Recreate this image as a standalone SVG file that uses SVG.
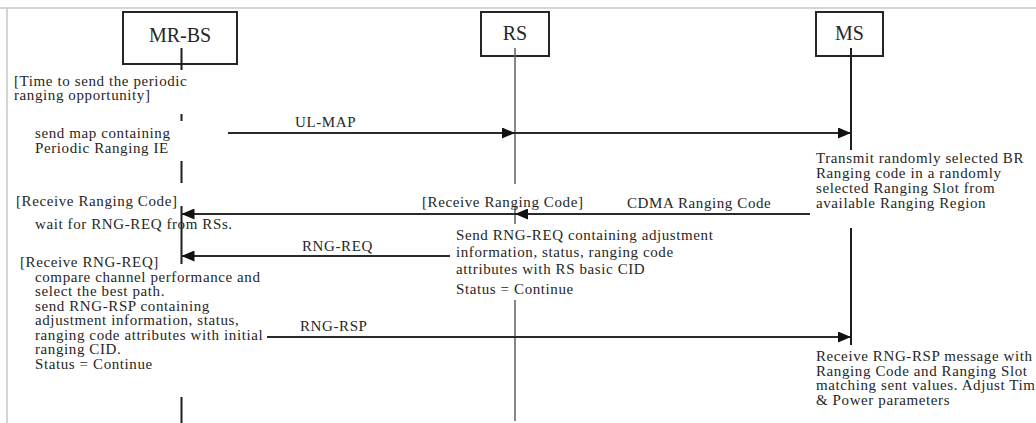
<svg xmlns="http://www.w3.org/2000/svg" width="1036" height="423" viewBox="0 0 1036 423">
  <style>
    .frame { stroke: #c8c8c8; stroke-width: 1.5; fill: none; }
    .box { fill: #fff; stroke: #262626; stroke-width: 2; }
    .title { font-family: "Liberation Serif", "Times New Roman", serif; font-size: 20px; fill: #262626; text-anchor: middle; }
    .txt { font-family: "Liberation Serif", "Times New Roman", serif; font-size: 15px; letter-spacing: 0.6px; fill: #262626; }
    .life { stroke: #1e1e1e; stroke-width: 2; fill: none; }
    .life-rs { stroke: #6a6a6a; stroke-width: 1.6; fill: none; }
    .msg { stroke: #2a2a2a; stroke-width: 2; fill: none; marker-end: url(#head); }
  </style>
  <defs>
    <marker id="head" markerWidth="13" markerHeight="11" refX="13" refY="5.5" orient="auto" markerUnits="userSpaceOnUse">
      <path d="M0,0 L13,5.5 L0,11 z" fill="#111"/>
    </marker>
  </defs>

  <rect width="1036" height="423" fill="#fff"/>
  <!-- page frame -->
  <path class="frame" d="M0,8 H1036 M7,8 V423"/>

  <!-- MR-BS -->
  <g id="mr-bs">
    <rect class="box" x="123" y="12" width="114" height="52"/>
    <text class="title" x="180" y="42">MR-BS</text>
    <path class="life" d="M181.5,48 V70 M181.5,114 V121 M181.5,161 V183 M181.5,206 V264 M181.5,397 V423"/>
    <text class="txt" x="14" y="86">[Time to send the periodic</text>
    <text class="txt" x="14" y="100">ranging opportunity]</text>
    <text class="txt" x="35" y="138">send map containing</text>
    <text class="txt" x="35" y="153">Periodic Ranging IE</text>
    <text class="txt" x="16" y="206">[Receive Ranging Code]</text>
    <text class="txt" x="35" y="229">wait for RNG-REQ from RSs.</text>
    <text class="txt" x="20" y="267">[Receive RNG-REQ]</text>
    <text class="txt" x="35" y="281.5">compare channel performance and</text>
    <text class="txt" x="35" y="296">select the best path.</text>
    <text class="txt" x="35" y="310.5">send RNG-RSP containing</text>
    <text class="txt" x="35" y="325">adjustment information, status,</text>
    <text class="txt" x="35" y="339.5">ranging code attributes with initial</text>
    <text class="txt" x="35" y="354">ranging CID.</text>
    <text class="txt" x="35" y="368.5">Status = Continue</text>
  </g>

  <!-- RS -->
  <g id="rs">
    <rect class="box" x="481" y="12" width="68" height="44"/>
    <text class="title" x="515" y="40">RS</text>
    <path class="life-rs" d="M515,48 V184 M515,207 V224 M515,300 V421"/>
    <text class="txt" x="422" y="207">[Receive Ranging Code]</text>
    <text class="txt" x="456" y="240">Send RNG-REQ containing adjustment</text>
    <text class="txt" x="456" y="257">information, status, ranging code</text>
    <text class="txt" x="456" y="274">attributes with RS basic CID</text>
    <text class="txt" x="456" y="294">Status = Continue</text>
  </g>

  <!-- MS -->
  <g id="ms">
    <rect class="box" x="816" y="12" width="67" height="44"/>
    <text class="title" x="849.5" y="40">MS</text>
    <path class="life" d="M851,48 V150 M851,228 V345"/>
    <text class="txt" x="816" y="163">Transmit randomly selected BR</text>
    <text class="txt" x="816" y="178">Ranging code in a randomly</text>
    <text class="txt" x="816" y="193">selected Ranging Slot from</text>
    <text class="txt" x="816" y="208">available Ranging Region</text>
    <text class="txt" x="816" y="361">Receive RNG-RSP message with</text>
    <text class="txt" x="816" y="375.5">Ranging Code and Ranging Slot</text>
    <text class="txt" x="816" y="390">matching sent values. Adjust Tim</text>
    <text class="txt" x="816" y="404.5">&amp; Power parameters</text>
  </g>

  <!-- messages -->
  <g id="connectors">
    <line class="msg" x1="228" y1="133" x2="515" y2="133"/>
    <line class="msg" x1="515" y1="133" x2="851" y2="133"/>
    <text class="txt" x="295" y="127">UL-MAP</text>

    <line class="msg" x1="810" y1="214" x2="515" y2="214"/>
    <line class="msg" x1="515" y1="214" x2="181.5" y2="214"/>
    <text class="txt" x="627" y="208">CDMA Ranging Code</text>

    <line class="msg" x1="450" y1="256" x2="181.5" y2="256"/>
    <text class="txt" x="302" y="251">RNG-REQ</text>

    <line class="msg" x1="267" y1="337" x2="851" y2="337"/>
    <text class="txt" x="300" y="331">RNG-RSP</text>
  </g>
</svg>
